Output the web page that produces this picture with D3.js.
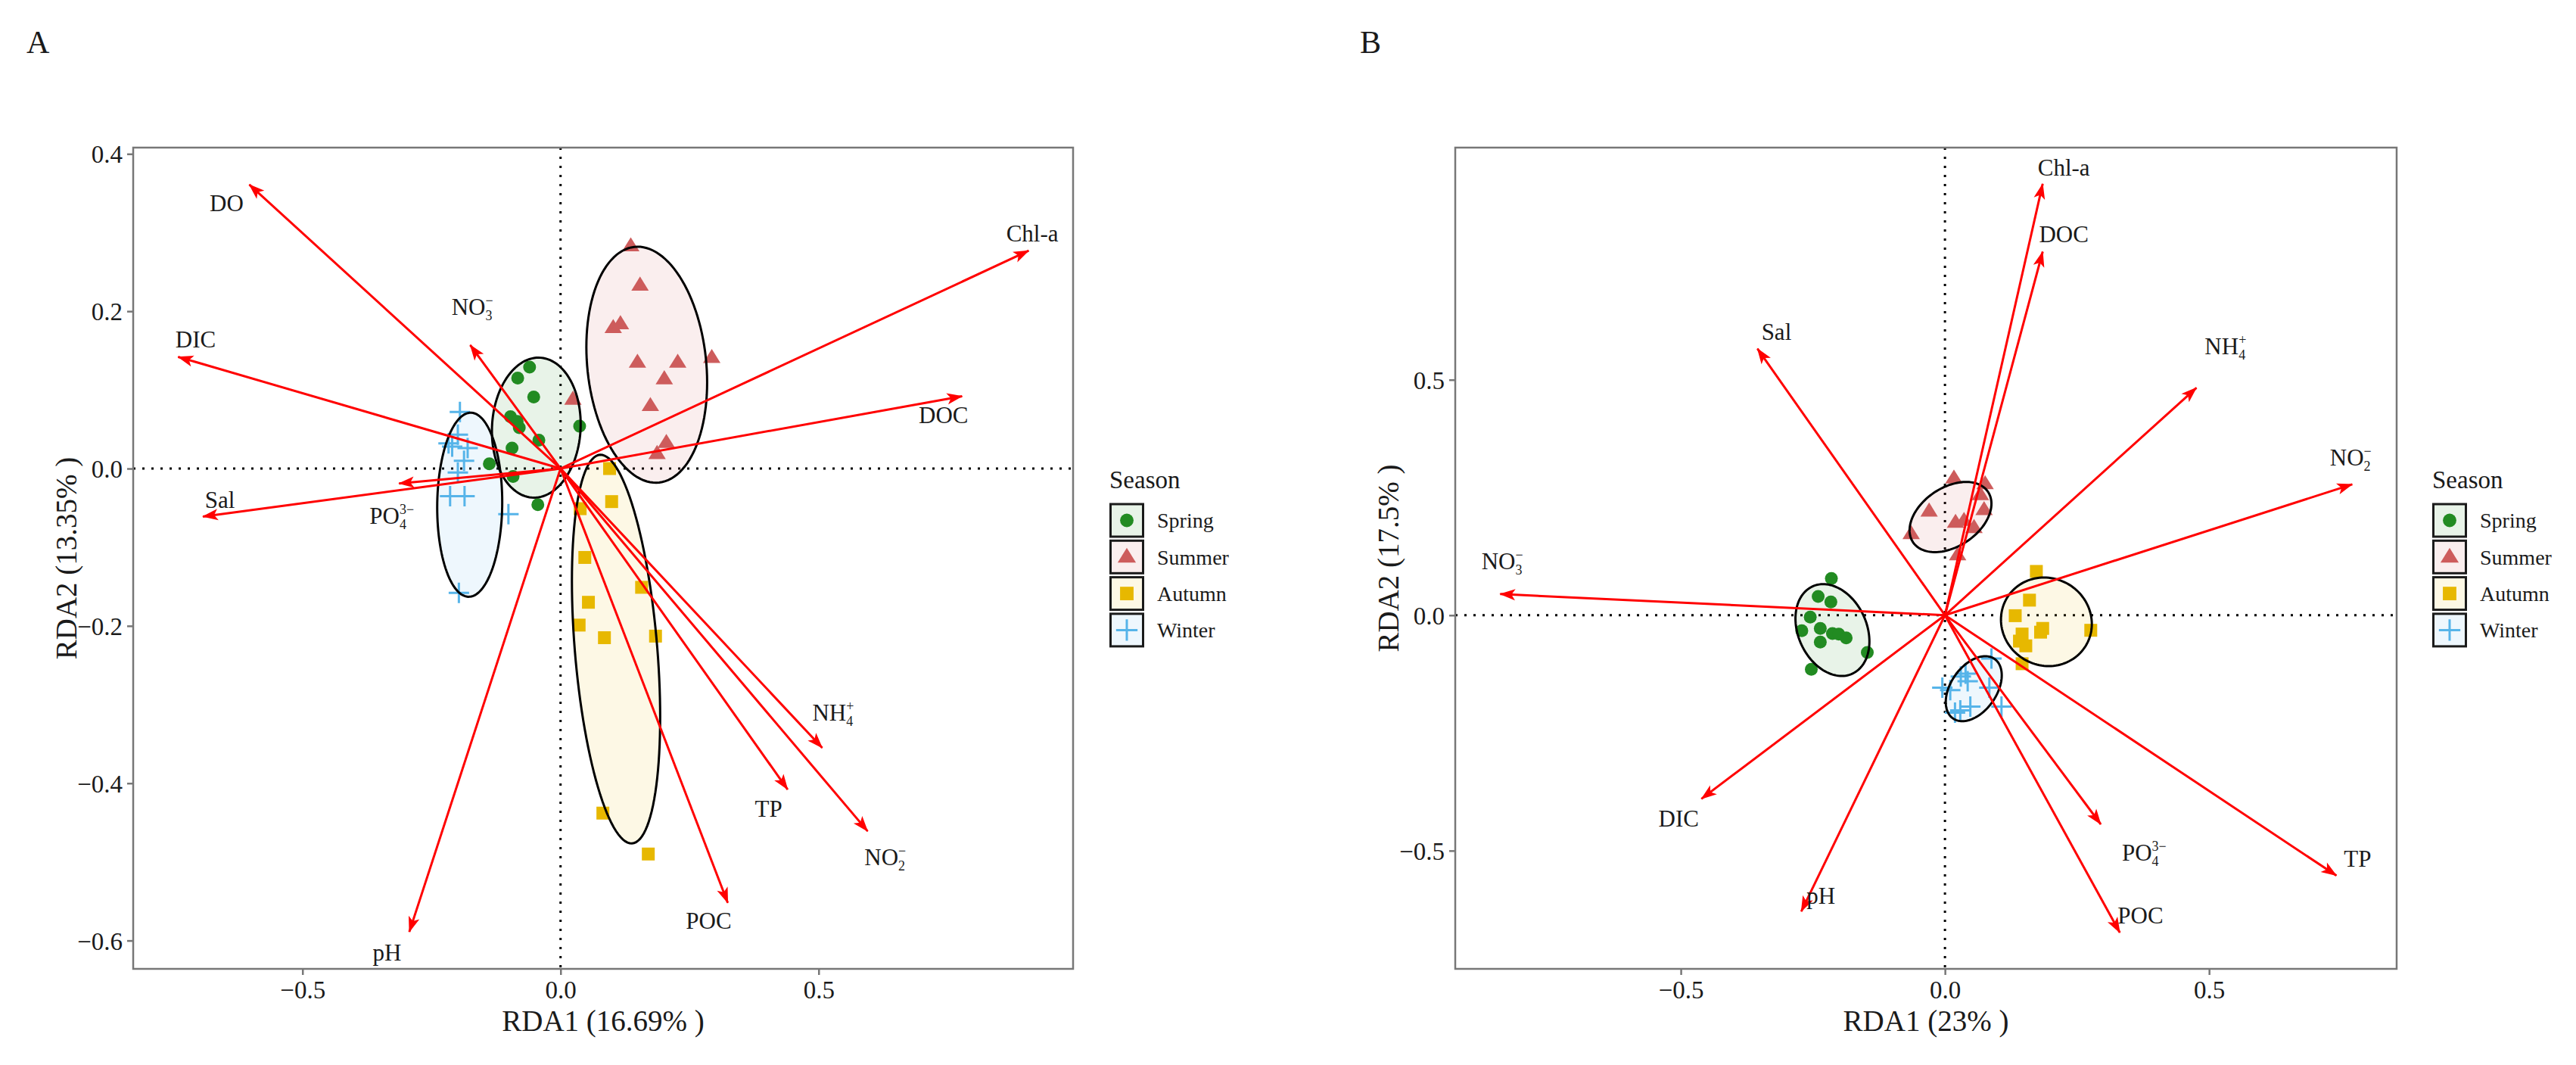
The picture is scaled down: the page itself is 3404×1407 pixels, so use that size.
<!DOCTYPE html>
<html>
<head>
<meta charset="utf-8">
<script src="https://cdn.jsdelivr.net/npm/d3@7"></script>
<style>
  body { margin: 0; background: #fff; }
  svg { display: block; }
  text { font-family: "Liberation Serif", "Times New Roman", serif; }
</style>
</head>
<body>
<svg id="chart" width="3404" height="1407"></svg>
<script>
// seasons + colours used by both panels
const seasons = ['Spring', 'Summer', 'Autumn', 'Winter'];
const seasonColors = ['#228B22', '#CD5C5C', '#E7B800', '#56B4E9'];

// ---- panel A : site scores (RDA1, RDA2) ----
const springA = [[-0.060,0.129],[-0.083,0.115],[-0.052,0.091],[-0.097,0.066],[-0.084,0.060],[-0.080,0.052],
  [-0.042,0.036],[-0.094,0.026],[0.037,0.054],[-0.138,0.006],[-0.092,-0.010],[-0.044,-0.046]];
const summerA = [[0.136,0.283],[0.154,0.233],[0.102,0.179],[0.116,0.184],[0.149,0.135],[0.227,0.135],
  [0.293,0.141],[0.201,0.114],[0.174,0.080],[0.024,0.088],[0.205,0.033],[0.187,0.019]];
const autumnA = [[0.095,0.000],[0.099,-0.042],[0.038,-0.051],[0.047,-0.113],[0.157,-0.151],[0.054,-0.170],
  [0.036,-0.199],[0.085,-0.215],[0.184,-0.213],[0.082,-0.438],[0.170,-0.490]];
const winterA = [[-0.195,0.072],[-0.199,0.043],[-0.217,0.032],[-0.210,0.028],[-0.180,0.026],[-0.187,0.010],
  [-0.199,-0.005],[-0.214,-0.035],[-0.186,-0.035],[-0.101,-0.058],[-0.197,-0.158]];
// ellipse per season: centre x, centre y, half extent x, half extent y, correlation
const ellipsesA = [[-0.047,0.052,0.086,0.089,0.05],[0.167,0.132,0.117,0.150,-0.15],
  [0.1075,-0.2295,0.0855,0.247,-0.35],[-0.176,-0.046,0.063,0.117,0.03]];
// environmental vectors
const envVarsA = ['DO','Chl-a','DIC','NO3-','DOC','Sal','PO43-','pH','POC','TP','NH4+','NO2-'];
const arrowsA = [[-0.603,0.361],[0.907,0.277],[-0.741,0.142],[-0.175,0.157],[0.778,0.092],[-0.693,-0.061],
  [-0.313,-0.019],[-0.293,-0.589],[0.324,-0.552],[0.440,-0.408],[0.507,-0.355],[0.595,-0.461]];
const labelsA = [[-0.647,0.338],[0.914,0.299],[-0.707,0.164],[-0.171,0.206],[0.742,0.068],[-0.660,-0.040],
  [-0.327,-0.060],[-0.336,-0.615],[0.287,-0.575],[0.403,-0.432],[0.528,-0.310],[0.629,-0.494]];
const xTicksA = [-0.5, 0, 0.5];
const yTicksA = [-0.6, -0.4, -0.2, 0, 0.2, 0.4];

// ---- panel B ----
const springB = [[-0.215,0.078],[-0.240,0.040],[-0.216,0.028],[-0.255,-0.004],[-0.271,-0.033],[-0.236,-0.028],
  [-0.213,-0.039],[-0.201,-0.040],[-0.187,-0.048],[-0.236,-0.057],[-0.147,-0.079],[-0.253,-0.115]];
const summerB = [[0.017,0.291],[0.076,0.279],[0.067,0.256],[-0.030,0.221],[0.074,0.224],[0.020,0.197],
  [0.036,0.201],[0.055,0.186],[-0.064,0.173],[0.024,0.128]];
const autumnB = [[0.173,0.093],[0.160,0.032],[0.133,-0.001],[0.276,-0.032],[0.181,-0.036],[0.146,-0.040],
  [0.141,-0.055],[0.153,-0.065],[0.146,-0.103],[0.185,-0.028]];
const winterB = [[0.088,-0.092],[0.039,-0.124],[0.043,-0.140],[0.030,-0.130],[-0.005,-0.154],[0.010,-0.159],
  [0.084,-0.154],[0.048,-0.194],[0.029,-0.202],[0.107,-0.194],[0.019,-0.207]];
const ellipsesB = [[-0.213,-0.0315,0.070,0.0975,-0.25],[0.0105,0.2085,0.0775,0.0745,0.38],
  [0.192,-0.014,0.086,0.094,-0.05],[0.0545,-0.156,0.053,0.069,0.41]];
const envVarsB = ['Chl-a','DOC','Sal','NH4+','NO2-','NO3-','DIC','pH','PO43-','POC','TP'];
const arrowsB = [[0.185,0.916],[0.185,0.772],[-0.355,0.566],[0.476,0.483],[0.771,0.278],[-0.842,0.045],
  [-0.461,-0.390],[-0.272,-0.629],[0.295,-0.444],[0.331,-0.674],[0.741,-0.553]];
const labelsB = [[0.225,0.951],[0.225,0.810],[-0.319,0.602],[0.531,0.571],[0.768,0.336],[-0.838,0.115],
  [-0.504,-0.431],[-0.235,-0.595],[0.377,-0.503],[0.370,-0.637],[0.781,-0.517]];
const xTicksB = [-0.5, 0, 0.5];
const yTicksB = [-0.5, 0, 0.5];

// how the chemistry names are written: base, subscript, superscript
const labelParts = {
  'NO3-': ['NO', '3', '\u2212'], 'NO2-': ['NO', '2', '\u2212'],
  'NH4+': ['NH', '4', '+'], 'PO43-': ['PO', '4', '3\u2212']
};

const svg = d3.select('#chart');
const fmt = d3.format('.1f');

// arrow head, same for every vector
svg.append('defs').append('marker')
  .attr('id', 'head')
  .attr('markerUnits', 'userSpaceOnUse')
  .attr('viewBox', '-22 -9 24 18')
  .attr('markerWidth', 24).attr('markerHeight', 18)
  .attr('refX', 0).attr('refY', 0)
  .attr('orient', 'auto')
  .append('path')
    .attr('d', 'M1,0 L-20,-7.5 L-15,0 L-20,7.5 Z')
    .attr('fill', '#ff0000');

function ellipsePath(e, x, y) {
  const [cx, cy, sx, sy, r] = e;
  const k = Math.sqrt(1 - r * r);
  const pts = d3.range(0, 361, 3).map(a => {
    const t = a * Math.PI / 180;
    return [x(cx + sx * Math.cos(t)), y(cy + sy * (r * Math.cos(t) + k * Math.sin(t)))];
  });
  return d3.line()(pts) + 'Z';
}

function drawMarker(g, season, px, py, s) {
  const col = seasonColors[season];
  if (season === 0) {
    g.append('circle').attr('cx', px).attr('cy', py).attr('r', 8.5 * s).attr('fill', col);
  } else if (season === 1) {
    const h = 11.5 * s;
    g.append('path')
      .attr('d', `M${px},${py - h} L${px + h * 1.0},${py + h * 0.62} L${px - h * 1.0},${py + h * 0.62} Z`)
      .attr('fill', col);
  } else if (season === 2) {
    const h = 8.5 * s;
    g.append('rect').attr('x', px - h).attr('y', py - h).attr('width', 2 * h).attr('height', 2 * h).attr('fill', col);
  } else {
    const h = 13.5 * s;
    g.append('path')
      .attr('d', `M${px - h},${py} H${px + h} M${px},${py - h} V${py + h}`)
      .attr('stroke', col).attr('stroke-width', 3).attr('fill', 'none');
  }
}

function envLabel(g, name, px, py) {
  const t = g.append('text')
    .attr('x', px).attr('y', py)
    .attr('dy', '0.35em')
    .attr('text-anchor', 'middle')
    .attr('font-size', 31)
    .attr('fill', '#1a1a1a');
  const parts = labelParts[name];
  if (!parts) { t.text(name); return; }
  t.append('tspan').text(parts[0]);
  t.append('tspan').text(parts[1]).attr('font-size', 18).attr('dy', 7);
  t.append('tspan').text(parts[2]).attr('font-size', 18).attr('dx', -9).attr('dy', -20);
}

function drawPanel(cfg) {
  const x = d3.scaleLinear().domain(cfg.xDomain).range([cfg.left, cfg.right]);
  const y = d3.scaleLinear().domain(cfg.yDomain).range([cfg.bottom, cfg.top]);
  const g = svg.append('g');
  const clipId = 'clip' + cfg.tag;

  g.append('clipPath').attr('id', clipId)
    .append('rect')
      .attr('x', cfg.left).attr('y', cfg.top)
      .attr('width', cfg.right - cfg.left).attr('height', cfg.bottom - cfg.top);

  const plot = g.append('g').attr('clip-path', `url(#${clipId})`);

  // dotted zero lines
  plot.append('line')
    .attr('x1', cfg.left).attr('x2', cfg.right).attr('y1', y(0)).attr('y2', y(0))
    .attr('stroke', '#000').attr('stroke-width', 3).attr('stroke-dasharray', '3,9');
  plot.append('line')
    .attr('x1', x(0)).attr('x2', x(0)).attr('y1', cfg.top).attr('y2', cfg.bottom)
    .attr('stroke', '#000').attr('stroke-width', 3).attr('stroke-dasharray', '3,9');

  // ellipse fills, then points, then outlines
  cfg.ellipses.forEach((e, i) => {
    plot.append('path').attr('d', ellipsePath(e, x, y))
      .attr('fill', seasonColors[i]).attr('fill-opacity', 0.1);
  });
  cfg.sites.forEach((pts, i) => {
    pts.forEach(p => drawMarker(plot, i, x(p[0]), y(p[1]), 1));
  });
  cfg.ellipses.forEach(e => {
    plot.append('path').attr('d', ellipsePath(e, x, y))
      .attr('fill', 'none').attr('stroke', '#000').attr('stroke-width', 3);
  });

  // environmental arrows
  plot.selectAll('line.vec')
    .data(cfg.arrows)
    .enter().append('line')
      .attr('class', 'vec')
      .attr('x1', x(0)).attr('y1', y(0))
      .attr('x2', d => x(d[0])).attr('y2', d => y(d[1]))
      .attr('stroke', '#ff0000').attr('stroke-width', 3)
      .attr('marker-end', 'url(#head)');

  cfg.vars.forEach((name, i) => envLabel(plot, name, x(cfg.labels[i][0]), y(cfg.labels[i][1])));

  // frame
  g.append('rect')
    .attr('x', cfg.left).attr('y', cfg.top)
    .attr('width', cfg.right - cfg.left).attr('height', cfg.bottom - cfg.top)
    .attr('fill', 'none').attr('stroke', '#777').attr('stroke-width', 2.5);

  // axes
  const ax = g.append('g').attr('transform', `translate(0,${cfg.bottom})`)
    .call(d3.axisBottom(x).tickValues(cfg.xTicks).tickSize(8).tickFormat(fmt));
  ax.select('.domain').remove();
  ax.selectAll('line').attr('stroke', '#777').attr('stroke-width', 2.5);
  ax.selectAll('text').attr('y', 27).attr('dy', '0.35em')
    .attr('font-size', 33).attr('fill', '#1a1a1a').attr('font-family', '"Liberation Serif", serif');

  const ay = g.append('g').attr('transform', `translate(${cfg.left},0)`)
    .call(d3.axisLeft(y).tickValues(cfg.yTicks).tickSize(8).tickPadding(6).tickFormat(fmt));
  ay.select('.domain').remove();
  ay.selectAll('line').attr('stroke', '#777').attr('stroke-width', 2.5);
  ay.selectAll('text').attr('dy', '0.35em')
    .attr('font-size', 33).attr('fill', '#1a1a1a').attr('font-family', '"Liberation Serif", serif');

  // axis titles
  g.append('text')
    .attr('x', (cfg.left + cfg.right) / 2).attr('y', 1348).attr('dy', '0.35em')
    .attr('text-anchor', 'middle').attr('font-size', 39).attr('fill', '#1a1a1a')
    .text(cfg.xTitle);
  g.append('text')
    .attr('transform', `translate(${cfg.left - 89},${(cfg.top + cfg.bottom) / 2}) rotate(-90)`)
    .attr('dy', '0.35em')
    .attr('text-anchor', 'middle').attr('font-size', 39).attr('fill', '#1a1a1a')
    .text(cfg.yTitle);

  // panel tag
  g.append('text')
    .attr('x', cfg.tagX).attr('y', 70)
    .attr('font-size', 42).attr('fill', '#1a1a1a')
    .text(cfg.tag);

  // legend
  const lg = g.append('g').attr('transform', `translate(${cfg.legendX},0)`);
  lg.append('text').attr('x', 0).attr('y', 645)
    .attr('font-size', 33).attr('fill', '#1a1a1a').text('Season');
  seasons.forEach((s, i) => {
    const ky = 666 + i * 48.3;
    lg.append('rect').attr('x', 1.5).attr('y', ky).attr('width', 43).attr('height', 43).attr('fill', '#fff');
    lg.append('rect').attr('x', 1.5).attr('y', ky).attr('width', 43).attr('height', 43)
      .attr('fill', seasonColors[i]).attr('fill-opacity', 0.1)
      .attr('stroke', '#1a1a1a').attr('stroke-width', 3);
    drawMarker(lg, i, 23, ky + 21.5, 1.05);
    lg.append('text').attr('x', 63).attr('y', ky + 21.5).attr('dy', '0.35em')
      .attr('font-size', 28).attr('fill', '#1a1a1a').text(s);
  });
}

drawPanel({
  tag: 'A', tagX: 35,
  left: 176, right: 1418, top: 195, bottom: 1280,
  xDomain: [-0.828, 0.993], yDomain: [-0.636, 0.408],
  sites: [springA, summerA, autumnA, winterA],
  ellipses: ellipsesA,
  vars: envVarsA, arrows: arrowsA, labels: labelsA,
  xTicks: xTicksA, yTicks: yTicksA,
  xTitle: 'RDA1 (16.69% )', yTitle: 'RDA2 (13.35% )',
  legendX: 1466
});

drawPanel({
  tag: 'B', tagX: 1797,
  left: 1923, right: 3167, top: 195, bottom: 1280,
  xDomain: [-0.927, 0.855], yDomain: [-0.751, 0.993],
  sites: [springB, summerB, autumnB, winterB],
  ellipses: ellipsesB,
  vars: envVarsB, arrows: arrowsB, labels: labelsB,
  xTicks: xTicksB, yTicks: yTicksB,
  xTitle: 'RDA1 (23% )', yTitle: 'RDA2 (17.5% )',
  legendX: 3214
});
</script>
</body>
</html>
